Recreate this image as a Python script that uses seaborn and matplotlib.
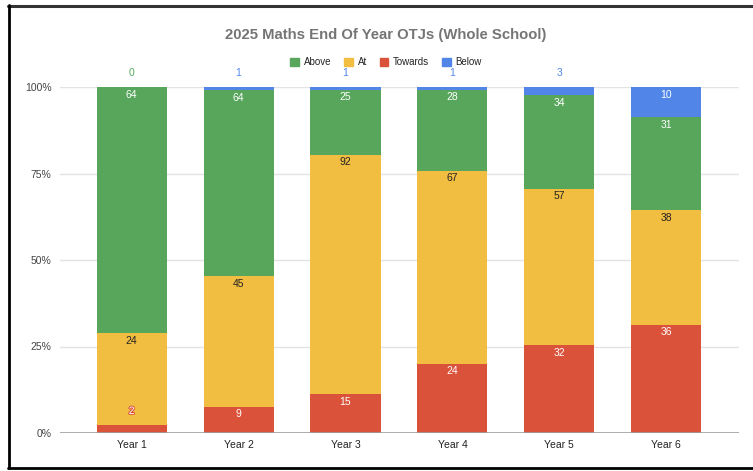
import matplotlib
matplotlib.use("Agg")
import matplotlib.pyplot as plt
import matplotlib.patheffects as pe
from matplotlib.lines import Line2D
import numpy as np
import pandas as pd
import seaborn as sns

years = ["Year 1", "Year 2", "Year 3", "Year 4", "Year 5", "Year 6"]
towards = [2, 9, 15, 24, 32, 36]
at = [24, 45, 92, 67, 57, 38]
above = [64, 64, 25, 28, 34, 31]
below = [0, 1, 1, 1, 3, 10]

series_names = ["Above", "At", "Towards", "Below"]
colors = {"Above": "#57A65B", "At": "#F1BE42", "Towards": "#DB523B", "Below": "#5185E8"}
yticks = [0, 0.25, 0.5, 0.75, 1.0]
ytick_labels = ["0%", "25%", "50%", "75%", "100%"]

sns.set_theme(style="white")
plt.rcParams["font.family"] = ["Liberation Sans", "DejaVu Sans"]

t = np.array(towards, float)
a = np.array(at, float)
ab = np.array(above, float)
b = np.array(below, float)
total = t + a + ab + b
p_t = t / total
p_ta = (t + a) / total
p_taab = (t + a + ab) / total
p_all = total / total

df = pd.DataFrame({"year": years, "all": p_all, "taab": p_taab, "ta": p_ta, "t": p_t})

fig = plt.figure(figsize=(7.53, 4.71), dpi=100)
ax = fig.add_axes([60 / 753, 1 - 433 / 471, (739 - 60) / 753, (433 - 87) / 471])

# gridlines behind bars
for yv in yticks[1:]:
    ax.axhline(yv, color="#E3E3E3", lw=1.0, zorder=0)

w = 0.655
for col, name in [("all", "Below"), ("taab", "Above"), ("ta", "At"), ("t", "Towards")]:
    sns.barplot(data=df, x="year", y=col, color=colors[name], width=w,
                saturation=1, ax=ax, zorder=2, linewidth=0)

ax.axhline(0, color="#9E9E9E", lw=1.2, zorder=3)
ax.set_xlim(-0.67, 5.68)
ax.set_ylim(0, 1.0)
ax.set_yticks(yticks)
ax.set_yticklabels(ytick_labels, fontsize=7.5, color="#444444")
ax.tick_params(axis="y", length=0, pad=6)
ax.tick_params(axis="x", length=0, pad=5, labelsize=7.5, labelcolor="#222222")
ax.set_xlabel("")
ax.set_ylabel("")
for s in ax.spines.values():
    s.set_visible(False)

off = 0.022
fs = 7.5
for i in range(len(years)):
    # Towards
    if p_t[i] > 0.05:
        ax.text(i, p_t[i] - off, str(towards[i]), ha="center", va="center",
                fontsize=fs, color="white", zorder=5)
    else:
        ax.text(i, p_t[i] + 0.042, str(towards[i]), ha="center", va="center",
                fontsize=fs, color="white", zorder=5,
                path_effects=[pe.withStroke(linewidth=1.4, foreground=colors["Towards"])])
    # At
    ax.text(i, p_ta[i] - off, str(at[i]), ha="center", va="center",
            fontsize=fs, color="#222222", zorder=5)
    # Above
    ax.text(i, p_taab[i] - off, str(above[i]), ha="center", va="center",
            fontsize=fs, color="white", zorder=5)
    # Below
    if below[i] >= 5:
        ax.text(i, 1.0 - off, str(below[i]), ha="center", va="center",
                fontsize=fs, color="white", zorder=5)
    else:
        ax.text(i, 1.04, str(below[i]), ha="center", va="center", fontsize=fs,
                color=colors["Below"] if below[i] > 0 else colors["Above"],
                zorder=5, clip_on=False)

fig.text(386 / 753, 1 - 35 / 471, "2025 Maths End Of Year OTJs (Whole School)",
         ha="center", va="center", fontsize=10.7, fontweight="bold", color="#757575")

handles = [plt.Rectangle((0, 0), 1, 1, color=colors[n]) for n in series_names]
fig.legend(handles, series_names, loc="center", ncol=4,
           bbox_to_anchor=(386 / 753, 1 - 62 / 471), frameon=False, fontsize=7,
           handlelength=0.9, handleheight=0.9, handletextpad=0.5, columnspacing=1.3,
           labelcolor="#222222")

# outer frame
fig.add_artist(Line2D([8 / 753, 1.0], [1 - 5.5 / 471, 1 - 5.5 / 471], color="#333333", lw=2.2))
fig.add_artist(Line2D([8.5 / 753, 8.5 / 753], [1 - 5 / 471, 1 - 468 / 471], color="black", lw=2))
fig.add_artist(Line2D([8 / 753, 1.0], [1 - 468 / 471, 1 - 468 / 471], color="black", lw=2))

fig.savefig("out.png", dpi=100, facecolor="white")
